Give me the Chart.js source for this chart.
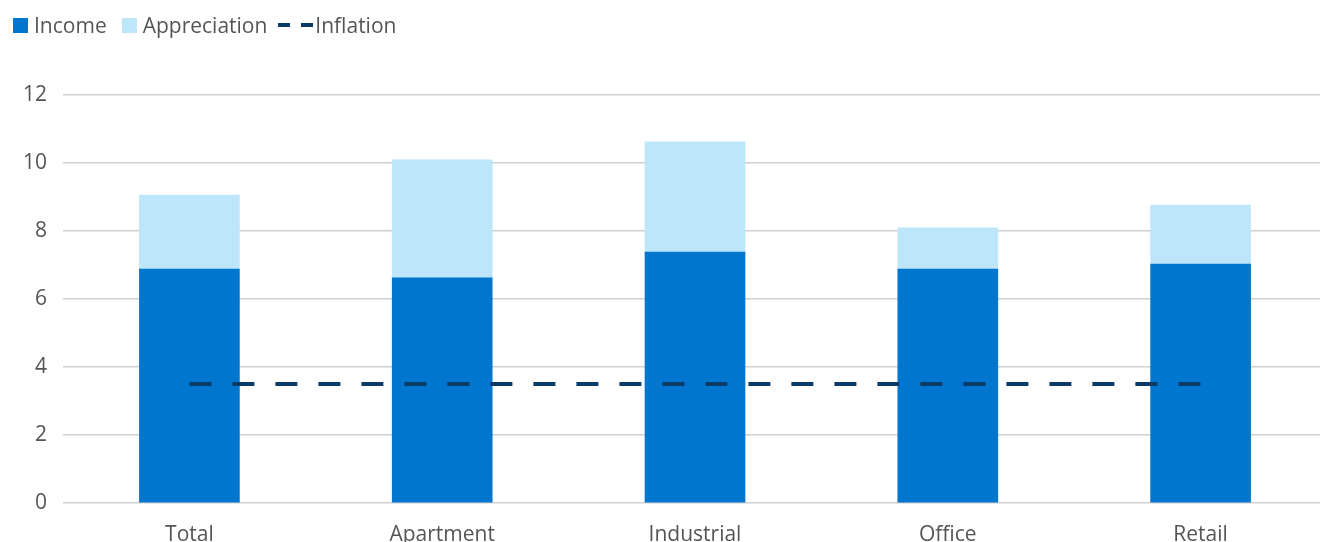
<!DOCTYPE html>
<html>
<head>
<meta charset="utf-8">
<script src="https://cdn.jsdelivr.net/npm/chart.js@4/dist/chart.umd.min.js"></script>
<style>
  html, body { margin: 0; padding: 0; background: #fff; }
  #wrap { position: relative; width: 1320px; height: 542px; overflow: hidden; }
  #legend {
    position: absolute; left: 13px; top: 11px;
    font-family: "Open Sans", sans-serif; font-size: 21px; color: #555;
    display: flex; align-items: center; white-space: nowrap;
  }
  #legend .item { display: flex; align-items: center; margin-right: 15px; }
  #legend .box { width: 15px; height: 15px; margin-right: 6px; }
  #legend .dash { width: 12px; height: 4px; background: #0a3a66; }
</style>
</head>
<body>
<div id="wrap">
  <!-- canvas a little wider than the window: the plot runs past the right edge -->
  <canvas id="the-graph" width="1327" height="542"></canvas>
  <div id="legend">
    <span class="item"><span class="box" style="background:#0076ce"></span>Income</span>
    <span class="item" style="margin-right:11px"><span class="box" style="background:#bee6fa"></span>Appreciation</span>
    <span class="item" style="margin-right:0">
      <span class="dash"></span><span style="width:11px"></span><span class="dash" style="margin-right:2px"></span>Inflation
    </span>
  </div>
</div>
<script>
var categories   = ["Total", "Apartment", "Industrial", "Office", "Retail"];
var income       = [6.88, 6.62, 7.38, 6.88, 7.03];
var appreciation = [2.18, 3.47, 3.24, 1.21, 1.73];
var inflation    = [3.5, 3.5, 3.5, 3.5, 3.5];
var yTicks       = [0, 2, 4, 6, 8, 10, 12];

var textColor = "#555555";
var font = { family: "Open Sans", size: 21 };

var chart = new Chart(document.getElementById("the-graph"), {
  type: "bar",
  data: {
    labels: categories,
    datasets: [
      {
        type: "line",
        label: "Inflation",
        data: inflation,
        borderColor: "#0a3a66",
        borderWidth: 4,
        borderDash: [22, 21],
        pointRadius: 0,
        fill: false,
        order: 0
      },
      {
        label: "Income",
        data: income,
        backgroundColor: "#0076ce",
        barThickness: 100,
        stack: "s",
        order: 1
      },
      {
        label: "Appreciation",
        data: appreciation,
        backgroundColor: "#bee6fa",
        barThickness: 100,
        stack: "s",
        order: 1
      }
    ]
  },
  options: {
    responsive: false,
    animation: false,
    layout: { padding: { top: 95, right: 0, bottom: 0, left: 0 } },
    plugins: {
      legend: { display: false },
      tooltip: { enabled: false }
    },
    scales: {
      x: {
        stacked: true,
        grid: { display: false, drawTicks: false },
        border: { display: false },
        ticks: { color: textColor, font: font, padding: 19, maxRotation: 0 },
        afterFit: function (s) { s.height = 39; }
      },
      y: {
        stacked: true,
        min: 0,
        max: 12,
        afterBuildTicks: function (s) {
          s.ticks = yTicks.map(function (v) { return { value: v }; });
        },
        grid: { color: "#d0d0d0", lineWidth: 1.5, drawTicks: false },
        border: { display: false },
        ticks: { color: textColor, font: font, padding: 16 },
        afterFit: function (s) { s.width = 63; }
      }
    }
  }
});
</script>
</body>
</html>
